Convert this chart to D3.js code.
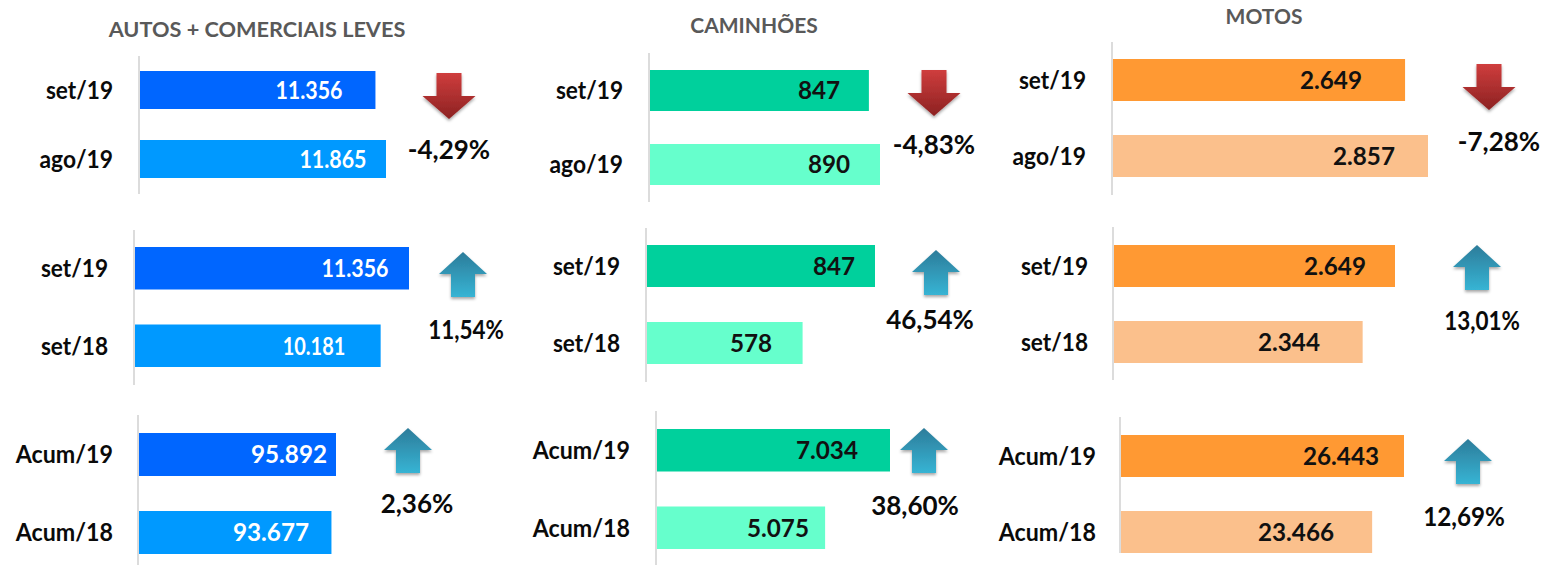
<!DOCTYPE html>
<html><head><meta charset="utf-8">
<script src="https://cdn.jsdelivr.net/npm/d3@7"></script>
<style>
html,body{margin:0;padding:0;background:#fff}
svg{display:block}
text{font-family:Lato,"Open Sans",sans-serif;}
</style></head><body><svg id="c" width="1543" height="565"></svg>
<script>
// ---- data ----
const groups = ["AUTOS + COMERCIAIS LEVES", "CAMINHÕES", "MOTOS"];
const catsMonth = ["set/19", "ago/19"];
const catsYear = ["set/19", "set/18"];
const catsAcum = ["Acum/19", "Acum/18"];
const autosMonth = [11356, 11865];
const autosYear = [11356, 10181];
const autosAcum = [95892, 93677];
const trucksMonth = [847, 890];
const trucksYear = [847, 578];
const trucksAcum = [7034, 5075];
const motosMonth = [2649, 2857];
const motosYear = [2649, 2344];
const motosAcum = [26443, 23466];
const valueLabels = [
  ["11.356","11.865"],["11.356","10.181"],["95.892","93.677"],
  ["847","890"],["847","578"],["7.034","5.075"],
  ["2.649","2.857"],["2.649","2.344"],["26.443","23.466"]];
const changes = ["-4,29%","11,54%","2,36%","-4,83%","46,54%","38,60%","-7,28%","13,01%","12,69%"];

// ---- layout (pixels) ----
const colours = [["#0066ff","#0099ff","#fff"],["#00d09c","#66ffcc","#111"],["#ff9933","#fbc08c","#111"]];
const titleAt = [[257,29,21.7],[754,26,21],[1264,17,21]];
const L = [
 {ax:139,a0:56,a1:194,top:71,bot:178,h:38,end:386,lab:113,vx:[309,333],ay:73,acx:449,px:449,py:150},
 {ax:134,a0:230,a1:385,top:247,bot:367,h:42.5,end:409,lab:108,vx:[355,314],ay:252,acx:463,px:466,py:330},
 {ax:138,a0:415,a1:565,top:433,bot:554,h:43,end:336,lab:113,vx:[289,271],ay:428,acx:408,px:417,py:504},
 {ax:649,a0:53,a1:202,top:70,bot:185,h:41,end:880,lab:623,vx:[819,829],ay:70,acx:934,px:934,py:145},
 {ax:646,a0:228,a1:382,top:245,bot:364,h:42,end:875,lab:620,vx:[834,751],ay:250,acx:936,px:930,py:320},
 {ax:656,a0:411,a1:565,top:429,bot:549,h:42.5,end:890,lab:630,vx:[827,778],ay:428,acx:924,px:915,py:506},
 {ax:1112,a0:42,a1:195,top:59,bot:177,h:42,end:1428,lab:1086,vx:[1331,1364],ay:64,acx:1489,px:1499,py:142},
 {ax:1113,a0:227,a1:380,top:245,bot:363,h:42,end:1395,lab:1088,vx:[1335,1289],ay:245,acx:1477,px:1482,py:321},
 {ax:1120,a0:417,a1:553,top:435,bot:553,h:42,end:1404,lab:1096,vx:[1341,1296],ay:439,acx:1468,px:1464,py:517}
];
const series = [autosMonth,autosYear,autosAcum,trucksMonth,trucksYear,trucksAcum,motosMonth,motosYear,motosAcum];
const cats = [catsMonth,catsYear,catsAcum,catsMonth,catsYear,catsAcum,catsMonth,catsYear,catsAcum];

const svg = d3.select("#c");
const defs = svg.append("defs");
function grad(id,a,b){const g=defs.append("linearGradient").attr("id",id).attr("x1",0).attr("x2",0).attr("y1",0).attr("y2",1);
 g.append("stop").attr("offset",0).attr("stop-color",a);g.append("stop").attr("offset",1).attr("stop-color",b);}
grad("down","#cf3d3d","#8c2222");grad("up","#2c7c9a","#37b4d4");
const f=defs.append("filter").attr("id","sh").attr("x","-30%").attr("y","-30%").attr("width","160%").attr("height","160%");
f.append("feDropShadow").attr("dx",0).attr("dy",2).attr("stdDeviation",1.6).attr("flood-color","#000").attr("flood-opacity",0.35);

// the reference face has a much narrower "1": tighten each label accordingly
function fit(sel,perOne,k){
  sel.each(function(){
    const t=this.textContent, n=t.split("1").length-1;
    const w=this.getComputedTextLength()*k-n*perOne;
    d3.select(this).attr("textLength",w).attr("lengthAdjust","spacingAndGlyphs");
  });
}

groups.forEach((t,i)=>svg.append("text").attr("x",titleAt[i][0]).attr("y",titleAt[i][1]).attr("dy","0.35em")
  .attr("text-anchor","middle").attr("font-size",titleAt[i][2]).attr("font-weight",700).attr("fill","#595959").text(t));

L.forEach((p,i)=>{
  const vals=series[i], col=colours[Math.floor(i/3)];
  const x=d3.scaleLinear().domain([0,d3.max(vals)]).range([p.ax+1,p.end]);
  const gap=(p.bot-p.top)-2*p.h;
  const y=d3.scaleBand().domain(cats[i]).range([p.top,p.bot]).paddingInner(gap/(gap+p.h)).paddingOuter(0);
  const g=svg.append("g");
  g.selectAll("rect").data(vals).join("rect")
    .attr("x",x(0)).attr("y",(d,k)=>y(cats[i][k])).attr("width",d=>x(d)-x(0)).attr("height",y.bandwidth())
    .attr("fill",(d,k)=>col[k]);
  g.append("line").attr("x1",p.ax).attr("x2",p.ax).attr("y1",p.a0).attr("y2",p.a1).attr("stroke","#d0d0d0").attr("stroke-width",1.5);
  g.selectAll("text.cat").data(cats[i]).join("text").attr("class","cat")
    .attr("x",p.lab).attr("y",d=>y(d)+y.bandwidth()/2).attr("dy","0.35em").attr("text-anchor","end")
    .attr("font-size",25).attr("font-weight",700).attr("fill","#0a0a0a").text(d=>d)
    .call(fit,6,0.985);
  g.selectAll("text.val").data(valueLabels[i]).join("text").attr("class","val")
    .attr("x",(d,k)=>p.vx[k]).attr("y",(d,k)=>y(cats[i][k])+y.bandwidth()/2).attr("dy","0.35em").attr("text-anchor","middle")
    .attr("font-size",25).attr("font-weight",700).attr("fill",col[2]).text(d=>d)
    .call(fit,4.5,0.97);
  const isDown=changes[i].startsWith("-");
  const W=isDown?26.5:24, S=isDown?12.5:12, H=isDown?46:45, N=isDown?23:22;
  const a=p.acx, t=p.ay;
  const pts=isDown?[[a-S,t],[a+S,t],[a+S,t+N],[a+W,t+N],[a,t+H],[a-W,t+N],[a-S,t+N]]
                  :[[a,t],[a+W,t+N],[a+S,t+N],[a+S,t+H],[a-S,t+H],[a-S,t+N],[a-W,t+N]];
  g.append("path").attr("d",d3.line()(pts)+"Z").attr("fill",`url(#${isDown?"down":"up"})`).attr("filter","url(#sh)");
  g.append("text").attr("class","pct").attr("x",p.px).attr("y",p.py).attr("dy","0.35em").attr("text-anchor","middle")
    .attr("font-size",26).attr("font-weight",700).attr("fill","#0a0a0a").text(changes[i])
    .call(fit,6,1);
});
</script></body></html>
